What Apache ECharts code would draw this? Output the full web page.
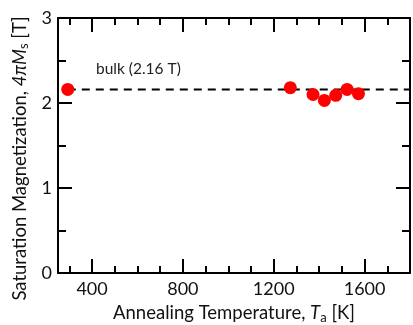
<!DOCTYPE html>
<html><head><meta charset="utf-8">
<script src="https://cdn.jsdelivr.net/npm/echarts@6/dist/echarts.min.js"></script>
<style>html,body{margin:0;padding:0;background:#fff}#c{width:413px;height:325px}</style>
</head><body><div id="c"></div>
<script>
const temps = [293, 1273, 1373, 1423, 1473, 1523, 1573];
const magnetization = [2.16, 2.18, 2.10, 2.03, 2.09, 2.16, 2.11];
const bulkValue = 2.16;
const bulkLineX = [293, 1800];
const xMajorTicks = [400, 800, 1200, 1600];
const xMinorTicks = [300, 500, 600, 700, 900, 1000, 1100, 1300, 1400, 1500, 1700];
const yTicks = [0, 1, 2, 3];

const FONT = 'Lato';
const chart = echarts.init(document.getElementById('c'));
const lineStyle = {color: '#000', width: 2};
function nameStyle(pad) {
  return {color: '#111', fontSize: 18.5, fontFamily: FONT, padding: pad,
    rich: {i: {fontStyle: 'italic', fontSize: 18.5, fontFamily: FONT, color: '#111'},
           s: {fontSize: 13, fontFamily: FONT, color: '#111', padding: [9, 0, 0, 0]}}};
}
function xAx(pos, ticks, len, show, lbl, name) {
  return {
    type: 'value', position: pos, min: 250, max: 1800,
    axisLine: {show: show, lineStyle: lineStyle},
    axisTick: {show: true, inside: true, length: len, customValues: ticks, lineStyle: {color:'#000', width: 2}},
    axisLabel: lbl ? {show: true, customValues: xMajorTicks, formatter: v => String(v), color: '#111', fontSize: 18, fontFamily: FONT, margin: 7} : {show: false},
    splitLine: {show: false},
    name: name || '', nameLocation: 'middle', nameGap: 29,
    nameTextStyle: nameStyle([0, 0, 0, 0])
  };
}
function yAx(pos, lbl, name) {
  return {
    type: 'value', position: pos, min: 0, max: 3, interval: 1,
    axisLine: {show: true, lineStyle: lineStyle},
    axisTick: {show: true, inside: true, length: 14, lineStyle: {color:'#000', width: 2}},
    minorTick: {show: true, splitNumber: 2, length: 8, lineStyle: {color:'#000', width: 2}},
    axisLabel: lbl ? {show: true, formatter: v => String(v), color: '#111', fontSize: 18, fontFamily: FONT, margin: 6} : {show: false},
    splitLine: {show: false},
    name: name || '', nameLocation: 'middle', nameGap: 11,
    nameTextStyle: nameStyle([0, 26, 0, 0])
  };
}
chart.setOption({
  animation: false,
  grid: {left: 58, right: 3, top: 18, bottom: 52, containLabel: false, outerBoundsMode: 'none'},
  xAxis: [
    xAx('bottom', xMajorTicks, 14, true, true, 'Annealing Temperature, {i|T}{s|a} [K]'),
    xAx('bottom', xMinorTicks, 7, false, false),
    xAx('top', xMajorTicks, 14, true, false),
    xAx('top', xMinorTicks, 7, false, false)
  ],
  yAxis: [
    yAx('left', true, 'Saturation Magnetization, {i|4πM}{s|s} [T]'),
    yAx('right', false)
  ],
  series: [
    {type: 'line', xAxisIndex: 0, yAxisIndex: 0, data: bulkLineX.map(x => [x, bulkValue]),
     symbol: 'none', lineStyle: {color: '#000', width: 2, type: [8, 6]}, silent: true, z: 1},
    {type: 'scatter', xAxisIndex: 0, yAxisIndex: 0, data: temps.map((t, i) => [t, magnetization[i]]),
     symbolSize: 13, itemStyle: {color: '#ff0000', opacity: 1}, z: 3}
  ],
  graphic: [{type: 'text', left: 96, top: 61, style: {text: 'bulk (2.16 T)', fontSize: 15.5, fontFamily: FONT, fill: '#222'}}]
});
</script></body></html>
